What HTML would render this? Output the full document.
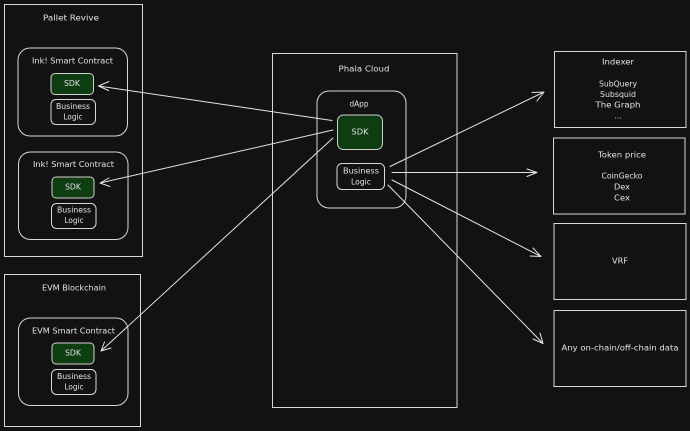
<!DOCTYPE html>
<html><head><meta charset="utf-8"><style>
html,body{margin:0;padding:0;background:#121212;width:690px;height:431px;overflow:hidden}
svg{display:block}
text{font-family:"DejaVu Sans","Liberation Sans",sans-serif;font-size:8px;fill:#e4e4e4;text-anchor:middle;dominant-baseline:central}
.b{fill:none;stroke:#d8d8d8;stroke-width:1}
.g{fill:#0f3d12;stroke:#d0d0d0;stroke-width:1}
.a{fill:none;stroke:#e4e4e4;stroke-width:1;stroke-linecap:round;stroke-linejoin:round}
</style></head><body>
<svg width="690" height="431" viewBox="0 0 690 431" xmlns="http://www.w3.org/2000/svg">
<rect class="b" x="4.5" y="4.5" width="138" height="252"/>
<rect class="b" x="4.5" y="274.5" width="136" height="152"/>
<rect class="b" x="272.5" y="53.5" width="184.5" height="354"/>
<rect class="b" x="554.5" y="51.5" width="131.5" height="76"/>
<rect class="b" x="553.5" y="138" width="131.5" height="76"/>
<rect class="b" x="554" y="223.5" width="132" height="76"/>
<rect class="b" x="554" y="310.5" width="132" height="76"/>

<rect class="b" x="18" y="48" width="109.5" height="88" rx="12"/>
<rect class="g" x="51" y="73.5" width="42.5" height="21" rx="4"/>
<rect class="b" x="51" y="99.5" width="44.5" height="25" rx="5"/>
<rect class="b" x="18.5" y="152" width="109.5" height="87.5" rx="12"/>
<rect class="g" x="52" y="177" width="42" height="21" rx="4"/>
<rect class="b" x="51.5" y="203.5" width="44.5" height="25" rx="5"/>
<rect class="b" x="18.5" y="318" width="109.5" height="87.5" rx="12"/>
<rect class="g" x="52" y="343" width="42" height="21" rx="4"/>
<rect class="b" x="51.5" y="369.5" width="44.5" height="25" rx="5"/>
<rect class="b" x="317" y="91" width="89" height="117" rx="12"/>
<rect class="g" x="337.5" y="115" width="45" height="34.5" rx="6"/>
<rect class="b" x="337" y="163.5" width="47.5" height="26" rx="5"/>

<g class="a">
<path d="M332 120.500L98.500 86M109 81.500L98.500 86L108.500 90.500"/>
<path d="M333 130L100 183M109 178L100 183L110 186.500"/>
<path d="M333 138L101 351M104.500 342L101 351L111 348"/>
<path d="M390 166.500L544 92M532 92.500L544 92L537 101"/>
<path d="M392 172.500L537 172.500M527 169L537 172.500L527 176.500"/>
<path d="M392 180L541 256.500M530 256L541 256.500L533 248"/>
<path d="M388 185L543 343.500M533 339L543 343.500L540 333"/>
</g>

<text x="71" y="18" textLength="56" lengthAdjust="spacingAndGlyphs">Pallet Revive</text>
<text x="72.500" y="61" textLength="81" lengthAdjust="spacingAndGlyphs">Ink! Smart Contract</text>
<text x="72" y="83.500" textLength="16" lengthAdjust="spacingAndGlyphs">SDK</text>
<text x="73" y="106.500" textLength="34" lengthAdjust="spacingAndGlyphs">Business</text>
<text x="73" y="117" textLength="19" lengthAdjust="spacingAndGlyphs">Logic</text>
<text x="73.500" y="164.500" textLength="81" lengthAdjust="spacingAndGlyphs">Ink! Smart Contract</text>
<text x="73" y="187" textLength="16" lengthAdjust="spacingAndGlyphs">SDK</text>
<text x="74" y="210" textLength="34" lengthAdjust="spacingAndGlyphs">Business</text>
<text x="74" y="220.500" textLength="19" lengthAdjust="spacingAndGlyphs">Logic</text>
<text x="74" y="288" textLength="64" lengthAdjust="spacingAndGlyphs">EVM Blockchain</text>
<text x="73.500" y="331" textLength="83" lengthAdjust="spacingAndGlyphs">EVM Smart Contract</text>
<text x="73" y="353" textLength="16" lengthAdjust="spacingAndGlyphs">SDK</text>
<text x="74" y="376.500" textLength="34" lengthAdjust="spacingAndGlyphs">Business</text>
<text x="74" y="387" textLength="19" lengthAdjust="spacingAndGlyphs">Logic</text>
<text x="364" y="69" textLength="51" lengthAdjust="spacingAndGlyphs">Phala Cloud</text>
<text x="359" y="104" textLength="19" lengthAdjust="spacingAndGlyphs">dApp</text>
<text x="360" y="132" textLength="17" lengthAdjust="spacingAndGlyphs">SDK</text>
<text x="361" y="171" textLength="36" lengthAdjust="spacingAndGlyphs">Business</text>
<text x="361" y="182" textLength="20" lengthAdjust="spacingAndGlyphs">Logic</text>
<text x="618" y="62" textLength="32" lengthAdjust="spacingAndGlyphs">Indexer</text>
<text x="618" y="84" textLength="38" lengthAdjust="spacingAndGlyphs">SubQuery</text>
<text x="618" y="94.500" textLength="36" lengthAdjust="spacingAndGlyphs">Subsquid</text>
<text x="618" y="105" textLength="45" lengthAdjust="spacingAndGlyphs">The Graph</text>
<text x="618" y="116" textLength="7" lengthAdjust="spacingAndGlyphs">...</text>
<text x="622" y="155" textLength="48" lengthAdjust="spacingAndGlyphs">Token price</text>
<text x="622" y="176" textLength="41" lengthAdjust="spacingAndGlyphs">CoinGecko</text>
<text x="622" y="187" textLength="16" lengthAdjust="spacingAndGlyphs">Dex</text>
<text x="622" y="198" textLength="16" lengthAdjust="spacingAndGlyphs">Cex</text>
<text x="620" y="261" textLength="16" lengthAdjust="spacingAndGlyphs">VRF</text>
<text x="620" y="348" textLength="117" lengthAdjust="spacingAndGlyphs">Any on-chain/off-chain data</text>
</svg>
</body></html>
